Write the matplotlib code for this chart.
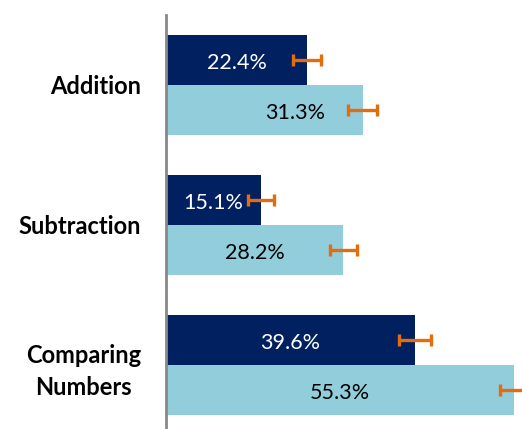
import numpy as np
import matplotlib.pyplot as plt

plt.rcParams['font.family'] = ['Lato', 'DejaVu Sans']

# data
categories = ["Addition", "Subtraction", "Comparing\nNumbers"]
dark_vals = [22.4, 15.1, 39.6]
light_vals = [31.3, 28.2, 55.3]
dark_err = [2.2, 2.0, 2.5]
light_err = [2.3, 2.2, 2.2]

# where the value labels sit (centre, in % units)
dark_lab_x = [11.2, 7.5, 19.8]
light_lab_x = [20.6, 14.1, 27.6]

W, H = 522, 429
fig = plt.figure(figsize=(W / 100, H / 100), dpi=100)
ax = fig.add_axes([166 / W, 0, 1 - 166 / W, (H - 15) / H])

y = np.arange(len(categories))
h = 50 / 140

ax.barh(y - h / 2, dark_vals, height=h, color="#002060")
ax.barh(y + h / 2, light_vals, height=h, color="#92CDDC")

ax.errorbar(dark_vals, y - h / 2, xerr=dark_err, fmt="none", ecolor="#E46C0A",
            elinewidth=2.4, capsize=4.5, capthick=2.4)
ax.errorbar(light_vals, y + h / 2, xerr=light_err, fmt="none", ecolor="#E46C0A",
            elinewidth=2.4, capsize=4.5, capthick=2.4)

for yi, v, lx in zip(y, dark_vals, dark_lab_x):
    ax.text(lx, yi - h / 2 + 0.02, "{:.1f}%".format(v), color="white",
            fontsize=15.5, ha="center", va="center")
for yi, v, lx in zip(y, light_vals, light_lab_x):
    ax.text(lx, yi + h / 2 + 0.02, "{:.1f}%".format(v), color="black",
            fontsize=15.5, ha="center", va="center")

ax.set_xlim(0, (W - 166) / 6.29)
ax.set_ylim(2 + 64 / 140, -0.5)
ax.set_yticks(y)
ax.set_yticklabels(categories, fontsize=17, fontweight="bold",
                   linespacing=1.45, multialignment="center")
ax.tick_params(axis="y", length=0, pad=18)
ax.set_xticks([])
for s in ["top", "right", "bottom"]:
    ax.spines[s].set_visible(False)
ax.spines["left"].set_color("#888888")
ax.spines["left"].set_linewidth(2)

fig.savefig("out.png", dpi=100)
